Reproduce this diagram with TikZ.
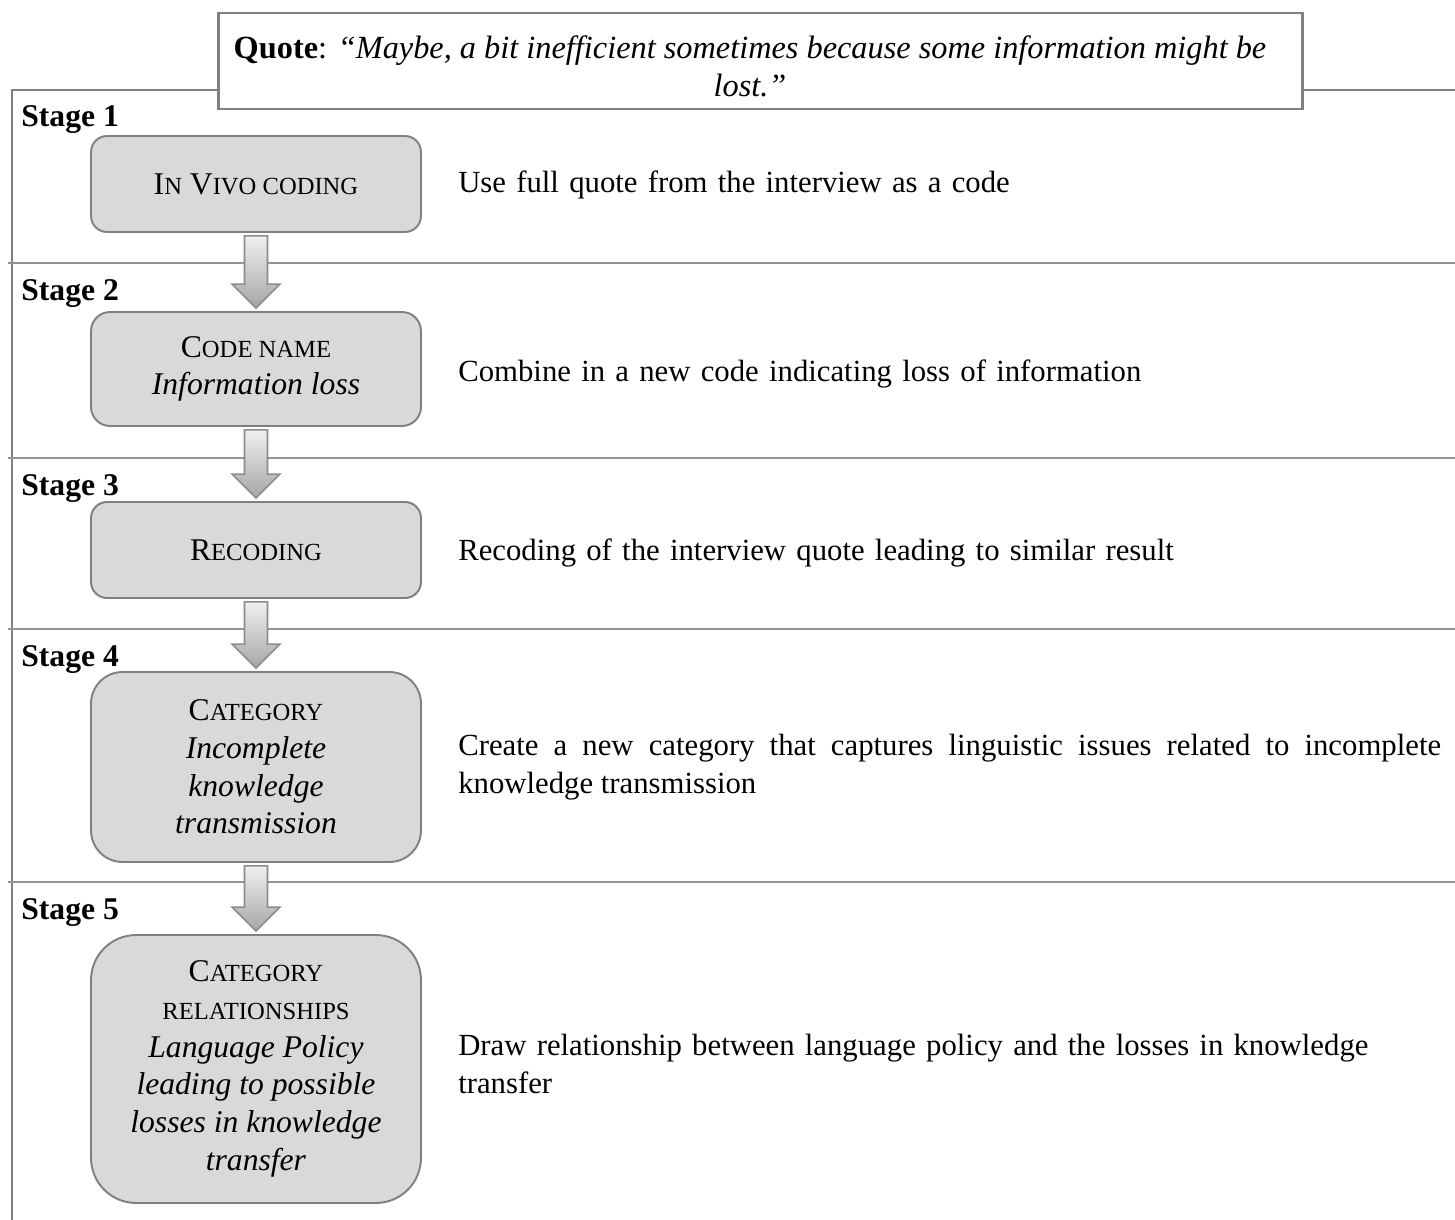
\documentclass[tikz,border=0pt]{standalone}
\usepackage{fontspec}
\setmainfont{Liberation Serif}
\usetikzlibrary{positioning,calc}
\hyphenpenalty=10000

\newcommand{\minisc}[1]{{\fontsize{14pt}{17pt}\selectfont #1}}
% fat shaded arrow from the bottom of one box to the top of the next
\newcommand{\flowarrow}[2]{%
  \path[flowarrow] let \p1=(#1.south), \p2=(#2.north) in
    (\x1-0.23cm,\y1-0.06cm) -- (\x1+0.23cm,\y1-0.06cm) -- (\x1+0.23cm,\y2+0.54cm)
    -- (\x1+0.48cm,\y2+0.54cm) -- (\x1,\y2+0.06cm) -- (\x1-0.48cm,\y2+0.54cm)
    -- (\x1-0.23cm,\y2+0.54cm) -- cycle;}

\tikzset{
  stagebox/.style={draw=black!50,fill=black!15,line width=1.1pt,minimum width=6.6cm,align=center,inner sep=2pt},
  stagelabel/.style={anchor=west,inner sep=0pt,font=\fontsize{18pt}{21.5pt}\selectfont\bfseries},
  note/.style={inner sep=0pt,text width=19.66cm,align=left,font=\fontsize{17.5pt}{21.5pt}\selectfont},
  quotebox/.style={draw=black!50,fill=white,line width=1.6pt,minimum width=21.7cm,minimum height=1.92cm,inner sep=0pt},
  quotetext/.style={align=center,inner sep=0pt,font=\fontsize{18.4pt}{21.6pt}\selectfont},
  frameline/.style={draw=black!50,line width=1.6pt},
  sepline/.style={draw=black!42,line width=1.1pt},
  flowarrow/.style={draw=black!45,line width=0.9pt,top color=black!6,bottom color=black!35}
}

\begin{document}
\begin{tikzpicture}[x=0.02cm,y=-0.02cm,font=\fontsize{18pt}{21.5pt}\selectfont]
  \useasboundingbox (0,0) rectangle (1455,1220);

  \node[quotebox] (quote) at (760.5,61) {};
  \node[quotetext] (quotetxt) at (750,66) {\textbf{Quote}: \textit{“Maybe, a bit inefficient sometimes because some information might be}\\\textit{lost.”}};

  \coordinate (frametl) at (12,90);
  \coordinate (framebl) at (12,1220);
  \coordinate (frametr) at (1455,90);
  \draw[frameline] (quote.west |- frametl) -- (frametl) -- (framebl);
  \draw[frameline] (quote.east |- frametr) -- (frametr);

  % stage rules
  \draw[sepline] (8,263) -- (1455,263);
  \draw[sepline] (8,458) -- (1455,458);
  \draw[sepline] (8,629) -- (1455,629);
  \draw[sepline] (8,882) -- (1455,882);

  \node[stagelabel] (stageone) at (21,120) {Stage 1};
  \node[stagelabel] (stagetwo) at (21,294) {Stage 2};
  \node[stagelabel] (stagethree) at (21,489) {Stage 3};
  \node[stagelabel] (stagefour) at (21,660) {Stage 4};
  \node[stagelabel] (stagefive) at (21,913) {Stage 5};

  \node[stagebox,minimum height=1.92cm,rounded corners=0.32cm] (invivo) at (256,184) {I\minisc{N} V\minisc{IVO CODING}};
  \node[stagebox,minimum height=2.28cm,rounded corners=0.38cm] (codename) at (256,369) {C\minisc{ODE NAME}\\\textit{Information loss}};
  \node[stagebox,minimum height=1.92cm,rounded corners=0.32cm] (recoding) at (256,550) {R\minisc{ECODING}};
  \node[stagebox,minimum height=3.8cm,rounded corners=0.63cm] (category) at (256,767) {C\minisc{ATEGORY}\\\textit{Incomplete}\\\textit{knowledge}\\\textit{transmission}};
  \node[stagebox,minimum height=5.36cm,rounded corners=0.9cm] (relations) at (256,1069) {C\minisc{ATEGORY}\\\minisc{RELATIONSHIPS}\\\textit{Language Policy}\\\textit{leading to possible}\\\textit{losses in knowledge}\\\textit{transfer}};

  \node[note,right=0.72cm of invivo,yshift=-0.02cm] (invivonote) {Use full quote from the interview as a code};
  \node[note,right=0.72cm of codename,yshift=-0.1cm] (codenamenote) {Combine in a new code indicating loss of information};
  \node[note,right=0.72cm of recoding,yshift=-0.06cm] (recodingnote) {Recoding of the interview quote leading to similar result};
  \node[note,align=justify,right=0.72cm of category] (categorynote) {Create a new category that captures linguistic issues related to incomplete\linebreak knowledge transmission};
  \node[note,right=0.72cm of relations,yshift=0.1cm] (relationsnote) {Draw relationship between language policy and the losses in knowledge transfer};

  \flowarrow{invivo}{codename}
  \flowarrow{codename}{recoding}
  \flowarrow{recoding}{category}
  \flowarrow{category}{relations}
\end{tikzpicture}
\end{document}
